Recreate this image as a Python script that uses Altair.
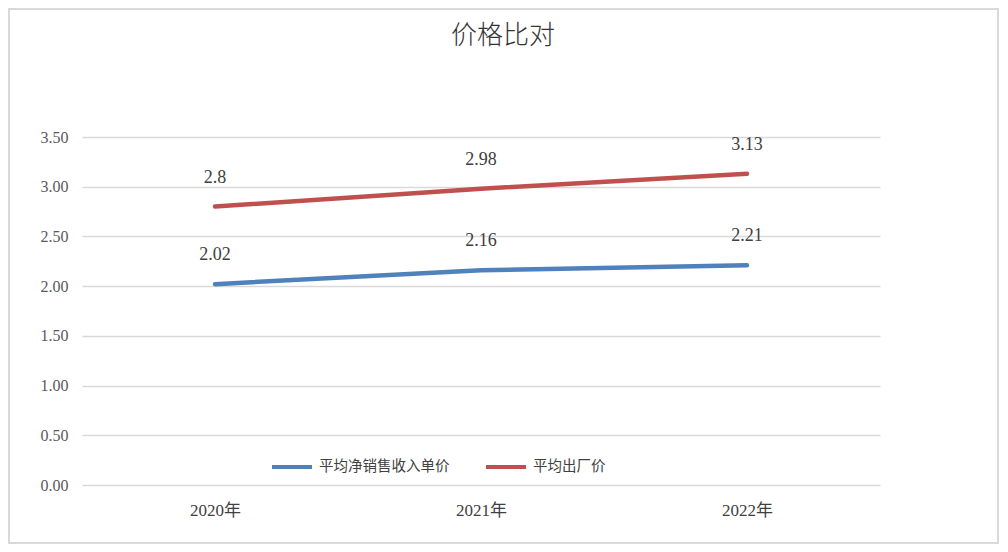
import altair as alt
import pandas as pd

years = ["2020年", "2021年", "2022年"]
series_names = ["平均净销售收入单价", "平均出厂价"]
net_price = [2.02, 2.16, 2.21]
factory_price = [2.8, 2.98, 3.13]
y_ticks = [0, 0.5, 1.0, 1.5, 2.0, 2.5, 3.0, 3.5]
colors = ["#4f81bd", "#c0504d"]
title_text = "价格比对"

rows = []
for name, vals in zip(series_names, [net_price, factory_price]):
    for yr, v in zip(years, vals):
        rows.append({"year": yr, "series": name, "value": v, "label": str(v)})
df = pd.DataFrame(rows)

serif = "Liberation Serif, DejaVu Serif, Noto Sans CJK SC"

x_enc = alt.X("year:N", sort=years, scale=alt.Scale(type="point", padding=0.5),
              axis=alt.Axis(title=None, labelAngle=0, domain=False, ticks=False,
                            labelFont=serif, labelFontSize=17, labelColor="#404040",
                            labelPadding=17, grid=False))
y_enc = alt.Y("value:Q", scale=alt.Scale(domain=[0, 3.5], nice=False),
              axis=alt.Axis(title=None, values=y_ticks, format=".2f", domain=False,
                            ticks=False, labelFont=serif, labelFontSize=16,
                            labelColor="#595959", labelPadding=14,
                            gridColor="#d9d9d9", gridWidth=1.5))
color_enc = alt.Color("series:N", sort=series_names,
                      scale=alt.Scale(domain=series_names, range=colors),
                      legend=alt.Legend(title=None, orient="none", legendX=188, legendY=308,
                                        direction="horizontal", symbolType="stroke",
                                        symbolSize=1600, symbolStrokeWidth=4,
                                        labelFont="Noto Sans CJK SC", labelFontSize=14.5,
                                        labelColor="#404040", columnPadding=28,
                                        labelOffset=5))

base = alt.Chart(df)
lines = base.mark_line(strokeWidth=4.5, strokeCap="round").encode(
    x=x_enc, y=y_enc, color=color_enc)
labels = base.mark_text(dy=-29, fontSize=18, font=serif, color="#404040",
                        baseline="middle").encode(
    x=alt.X("year:N", sort=years), y="value:Q", text="label:N")

one = pd.DataFrame({"t": [title_text]})
border = alt.Chart(one).mark_rect(
    fill=None, stroke="#d9d9d9", strokeWidth=2).encode(
    x=alt.value(-73), x2=alt.value(916), y=alt.value(-128), y2=alt.value(406))
title = alt.Chart(one).mark_text(
    font="Noto Sans CJK SC", fontSize=26, fontWeight=300, color="#333333",
    baseline="middle", align="center").encode(
    x=alt.value(421), y=alt.value(-101), text="t:N")

chart = alt.layer(border, title, lines, labels).properties(
    width=798, height=348,
    autosize=alt.AutoSizeParams(type="none"),
    padding={"left": 74, "top": 129, "right": 120, "bottom": 59},
).configure_view(stroke=None)

chart.save("out.html", embed_options={"renderer": "svg", "actions": False})
